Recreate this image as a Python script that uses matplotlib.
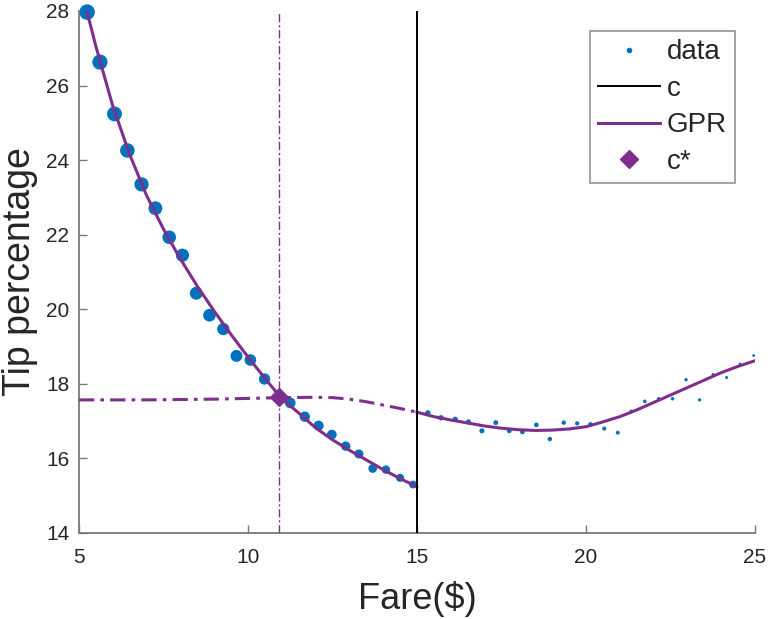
import matplotlib
matplotlib.use("Agg")
import matplotlib.pyplot as plt
from matplotlib.lines import Line2D
import numpy as np

plt.rcParams['font.family'] = ['Liberation Sans', 'DejaVu Sans']

# ---- data ----
x_left = [5.24, 5.62, 6.05, 6.43, 6.85, 7.26, 7.67, 8.06, 8.47, 8.86, 9.27, 9.66,
          10.07, 10.49, 10.93, 11.25, 11.68, 12.09, 12.48, 12.89, 13.28, 13.69,
          14.08, 14.50, 14.88]
y_left = [27.97, 26.63, 25.24, 24.26, 23.35, 22.71, 21.93, 21.45, 20.43, 19.84, 19.47, 18.75,
          18.64, 18.13, 17.65, 17.49, 17.12, 16.88, 16.64, 16.33, 16.12, 15.73,
          15.70, 15.48, 15.30]

x_right = [15.32, 15.71, 16.13, 16.52, 16.92, 17.33, 17.73, 18.12, 18.53, 18.93,
           19.34, 19.74, 20.13, 20.54, 20.94, 21.34, 21.74, 22.15, 22.56, 22.96,
           23.36, 23.76, 24.16, 24.56, 24.96]
y_right = [17.22, 17.09, 17.05, 16.98, 16.74, 16.96, 16.74, 16.71, 16.90, 16.52,
           16.96, 16.94, 16.92, 16.80, 16.69, 17.26, 17.53, 17.60, 17.60, 18.11,
           17.57, 18.25, 18.17, 18.53, 18.76]

gpr_left_x = [5.24, 5.5, 6.0, 6.5, 7.0, 7.5, 8.0, 8.5, 9.0, 9.5, 10.0, 10.5, 11.0,
              11.5, 12.0, 12.5, 13.0, 13.5, 14.0, 14.5, 15.0]
gpr_left_y = [27.97, 27.05, 25.45, 24.15, 23.05, 22.15, 21.35, 20.62, 19.95, 19.32,
              18.72, 18.15, 17.60, 17.22, 16.82, 16.50, 16.22, 15.96, 15.70, 15.46, 15.24]

gpr_dash_x = [5.0, 6.0, 7.0, 8.0, 9.0, 10.0, 11.0, 12.0, 12.5, 13.0, 13.5, 14.0, 14.5, 15.0]
gpr_dash_y = [17.57, 17.57, 17.57, 17.58, 17.59, 17.61, 17.63, 17.64, 17.63, 17.59,
              17.52, 17.43, 17.34, 17.24]

gpr_right_x = [15.0, 15.5, 16.0, 16.5, 17.0, 17.5, 18.0, 18.5, 19.0, 19.5, 20.0,
               20.5, 21.0, 21.5, 22.0, 22.5, 23.0, 23.5, 24.0, 24.5, 25.0]
gpr_right_y = [17.24, 17.12, 17.03, 16.95, 16.87, 16.81, 16.77, 16.75, 16.76, 16.79,
               16.85, 16.98, 17.12, 17.30, 17.50, 17.70, 17.90, 18.10, 18.30, 18.47, 18.62]

c_value = 15.0
c_star_x = 10.93
c_star_y = 17.65

x_ticks = [5, 10, 15, 20, 25]
y_ticks = [14, 16, 18, 20, 22, 24, 26, 28]

# ---- styling ----
blue = '#0072BD'
purple = '#7E2F8E'
axis_gray = '#7a7a7a'
text_col = '#262626'

fig = plt.figure(figsize=(7.7, 6.19), dpi=100)
ax = fig.add_axes([79/770, (619-533)/619, (755-79)/770, (533-11)/619])

px2pt = 0.72
# marker diameters (px) shrinking with fare, as drawn in the reference
xl = np.array(x_left)
xr = np.array(x_right)
d_left = 15.5 - 0.8 * (xl - 5.24)
d_right = 5.5 - 0.28 * (xr - 15.32)

ax.scatter(x_left, y_left, s=(d_left * px2pt) ** 2, color=blue, linewidths=0,
           zorder=2, clip_on=False)
ax.scatter(x_right, y_right, s=(d_right * px2pt) ** 2, color=blue, linewidths=0,
           zorder=2, clip_on=False)

ax.plot(gpr_left_x, gpr_left_y, color=purple, lw=2.2, zorder=3, solid_capstyle='round')
ax.plot(gpr_dash_x, gpr_dash_y, color=purple, lw=2.2, zorder=3,
        linestyle=(0, (5, 2, 1.2, 2)))
ax.plot(gpr_right_x, gpr_right_y, color=purple, lw=2.2, zorder=3)

ax.axvline(c_value, color='black', lw=1.4, zorder=4)
ax.axvline(c_star_x, color=purple, lw=1.0, linestyle=(0, (6, 2, 1.5, 2)), zorder=4)
ax.plot([c_star_x], [c_star_y], marker='D', color=purple, markersize=9, zorder=5,
        linestyle='none')

ax.set_xlim(5, 25)
ax.set_ylim(14, 28)
ax.set_xticks(x_ticks)
ax.set_yticks(y_ticks)
ax.tick_params(direction='in', length=6, width=1, colors=axis_gray,
               labelcolor=text_col, labelsize=15)
ax.tick_params(axis='x', pad=11)
ax.tick_params(axis='y', pad=7)
for s in ['top', 'right']:
    ax.spines[s].set_visible(False)
for s in ['left', 'bottom']:
    ax.spines[s].set_color(axis_gray)
    ax.spines[s].set_linewidth(1.3)

ax.set_xlabel('Fare($)', fontsize=26, color=text_col, labelpad=10)
ax.set_ylabel('Tip percentage', fontsize=27, color=text_col, labelpad=6)

handles = [
    Line2D([], [], marker='o', color=blue, linestyle='none', markersize=3),
    Line2D([], [], color='black', lw=1.4),
    Line2D([], [], color=purple, lw=2.2),
    Line2D([], [], marker='D', color=purple, linestyle='none', markersize=9),
]
leg = ax.legend(handles, ['data', 'c', 'GPR', 'c*'], loc='upper right',
                bbox_to_anchor=((735-79)/676, (533-31)/522), fontsize=20, frameon=True,
                fancybox=False, handlelength=2.2, handletextpad=0.25,
                labelspacing=0.38, borderpad=0.3, borderaxespad=0)
leg.get_frame().set_edgecolor(axis_gray)
leg.get_frame().set_linewidth(1.2)
for t in leg.get_texts():
    t.set_color(text_col)

fig.savefig('out.png', dpi=100)
